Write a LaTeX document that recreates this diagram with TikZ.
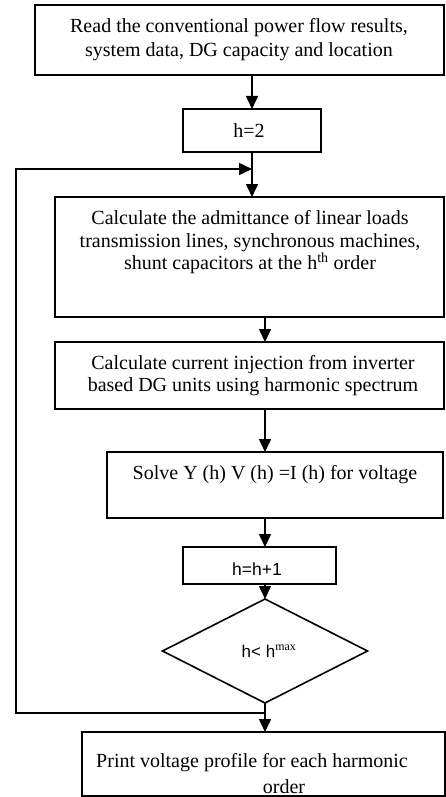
\documentclass[tikz,border=0pt]{standalone}
\usepackage{fontspec}
\setmainfont{Liberation Serif}
\newfontfamily\sansf{Liberation Sans}
\usetikzlibrary{arrows.meta,shapes.geometric,calc}
\begin{document}
\begin{tikzpicture}[x=1pt,y=-1pt,
  box/.style={draw,line width=1.6pt,rectangle,inner sep=0pt,outer sep=0pt,anchor=north west},
  txt/.style={align=center,inner sep=0pt,font=\fontsize{20}{23}\selectfont},
  stxt/.style={align=center,inner sep=0pt,font=\sansf\fontsize{17.5}{20}\selectfont},
  arr/.style={line width=1.6pt,-{Triangle[width=12pt,length=13pt]}},
  ln/.style={line width=1.6pt}]
\useasboundingbox (0,0) rectangle (445,797);
% boxes
\node[box,minimum width=409pt,minimum height=70pt] (b1) at (35,5) {};
\node[box,minimum width=138pt,minimum height=43pt] (b2) at (183,109) {};
\node[box,minimum width=389pt,minimum height=120pt] (b3) at (55,197) {};
\node[box,minimum width=389pt,minimum height=67pt] (b4) at (55,342) {};
\node[box,minimum width=336pt,minimum height=66pt] (b5) at (107,452) {};
\node[box,minimum width=153pt,minimum height=37pt] (b6) at (183,547) {};
\node[draw,line width=1.6pt,diamond,aspect=1.97,minimum width=205pt,minimum height=104pt,inner sep=0pt,outer sep=0pt] (d) at (265,651) {};
\node[box,minimum width=363pt,minimum height=64pt] (b7) at (82,732) {};
% texts
\node[txt,font=\fontsize{20}{24.5}\selectfont] (t1) at (239,39.75) {Read the conventional power flow results,\\system data, DG capacity and location};
\node[txt] (t2) at (249,130.5) {h=2};
\node[txt,font=\fontsize{20}{22.5}\selectfont] (t3) at (250,242.5) {Calculate the admittance of linear loads\\transmission lines, synchronous machines,\\shunt capacitors at the h\textsuperscript{th} order};
\node[txt,font=\fontsize{20}{22}\selectfont] (t4) at (253,376) {Calculate current injection from inverter\\based DG units using harmonic spectrum};
\node[txt] (t5) at (275,475) {Solve Y (h) V (h) =I (h) for voltage};
\node[stxt] (t6) at (257,569) {h=h+1};
\node[stxt,font=\sansf\fontsize{17}{20}\selectfont] (t7) at (269,651) {h< h\textsuperscript{\rmfamily max}};
\node[txt] (t8) at (252,763) {Print voltage profile for each harmonic};
\node[txt] (t9) at (284,787) {order};
% connectors
\coordinate (m1) at ($(b2.south)+(0,17)$);
\coordinate (j) at (d.south |- 0,713);
\coordinate (cl) at (16,713);
\coordinate (ct) at (16,169);
\draw[arr] (b1.south -| b2.north) -- (b2.north);
\draw[arr] (b2.south) -- (b3.north -| b2.south);
\draw[arr] (j) -- (cl) -- (ct) -- (m1);
\draw[arr] (b3.south -| d.north) -- (b4.north -| d.north);
\draw[arr] (b4.south -| d.north) -- (b5.north -| d.north);
\draw[arr] (b5.south -| d.north) -- (b6.north -| d.north);
\draw[arr] (b6.south -| d.north) -- (d.north);
\draw[arr] (d.south) -- (b7.north -| d.south);
\end{tikzpicture}
\end{document}
